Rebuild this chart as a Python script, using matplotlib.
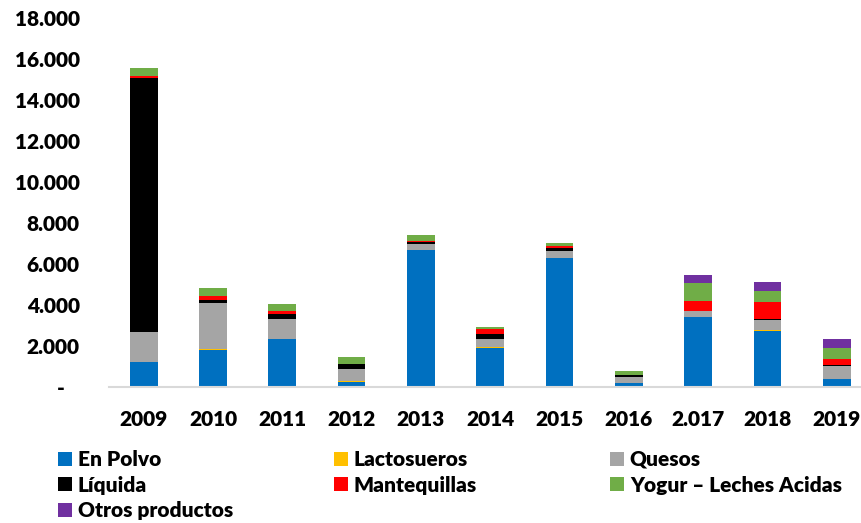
import matplotlib
matplotlib.use("Agg")
import matplotlib.pyplot as plt
from matplotlib.patches import Patch
from matplotlib.ticker import FuncFormatter, MultipleLocator
import numpy as np

years = ["2009", "2010", "2011", "2012", "2013", "2014", "2015", "2016", "2.017", "2018", "2019"]
en_polvo = [1200, 1810, 2330, 250, 6670, 1900, 6260, 165, 3380, 2710, 360]
lactosueros = [0, 20, 0, 40, 0, 40, 0, 0, 0, 70, 0]
quesos = [1470, 2270, 970, 560, 290, 370, 380, 310, 310, 480, 650]
liquida = [12380, 150, 270, 245, 85, 240, 130, 95, 0, 60, 50]
mantequillas = [140, 200, 130, 0, 50, 250, 100, 0, 470, 830, 310]
yogur = [350, 380, 330, 355, 330, 110, 145, 200, 910, 530, 540]
otros = [0, 0, 0, 0, 0, 0, 0, 0, 360, 420, 440]

series = [
    ("En Polvo", en_polvo, "#0070C0"),
    ("Lactosueros", lactosueros, "#FFC000"),
    ("Quesos", quesos, "#A5A5A5"),
    ("Líquida", liquida, "#000000"),
    ("Mantequillas", mantequillas, "#FF0000"),
    ("Yogur – Leches Acidas", yogur, "#70AD47"),
    ("Otros productos", otros, "#7030A0"),
]

plt.rcParams['font.family'] = ['Lato', 'DejaVu Sans']
WT = 'heavy'
plt.rcParams['font.weight'] = WT
FS = 15

W, H = 862, 523
fig = plt.figure(figsize=(W / 100, H / 100), dpi=100)
ax_left = 109 / W
ax_right = 871.4 / W
ax_bottom = 1 - 386.7 / H
ax_top = 1 - 18 / H
ax = fig.add_axes([ax_left, ax_bottom, ax_right - ax_left, ax_top - ax_bottom])

x = np.arange(len(years))
bottom = np.zeros(len(years))
handles = {}
for name, vals, col in series:
    v = np.array(vals, dtype=float)
    ax.bar(x, v, width=0.4, bottom=bottom, color=col, edgecolor='none', zorder=2)
    bottom += v
    handles[name] = Patch(facecolor=col, edgecolor='none', label=name)

ax.set_xlim(-0.5, len(years) - 0.5)
ax.set_ylim(0, 18000)
ax.yaxis.set_major_locator(MultipleLocator(2000))

def fmt(v, pos):
    if abs(v) < 1e-9:
        return "-   "
    return f"{v:,.0f}".replace(",", ".")

ax.yaxis.set_major_formatter(FuncFormatter(fmt))
ax.set_xticks(x)
ax.set_xticklabels(years)
for s in ["top", "right", "left"]:
    ax.spines[s].set_visible(False)
ax.spines["bottom"].set_color("#D9D9D9")
ax.spines["bottom"].set_linewidth(1.5)
ax.tick_params(axis='both', length=0, labelsize=FS)
ax.tick_params(axis='y', pad=21)
ax.tick_params(axis='x', pad=17)
for lab in ax.get_xticklabels() + ax.get_yticklabels():
    lab.set_fontweight(WT)

cols = [
    (["En Polvo", "Líquida", "Otros productos"], 58),
    (["Lactosueros", "Mantequillas"], 334),
    (["Quesos", "Yogur – Leches Acidas"], 610),
]
for names, xpx in cols:
    leg = fig.legend(handles=[handles[n] for n in names], loc='upper left',
                     bbox_to_anchor=(xpx / W, 1 - 450 / H), frameon=False,
                     borderpad=0, borderaxespad=0, handlelength=0.65,
                     handleheight=0.65, handletextpad=0.3, labelspacing=0.32,
                     prop={'size': FS, 'weight': WT})

fig.savefig("out.png", dpi=100)
